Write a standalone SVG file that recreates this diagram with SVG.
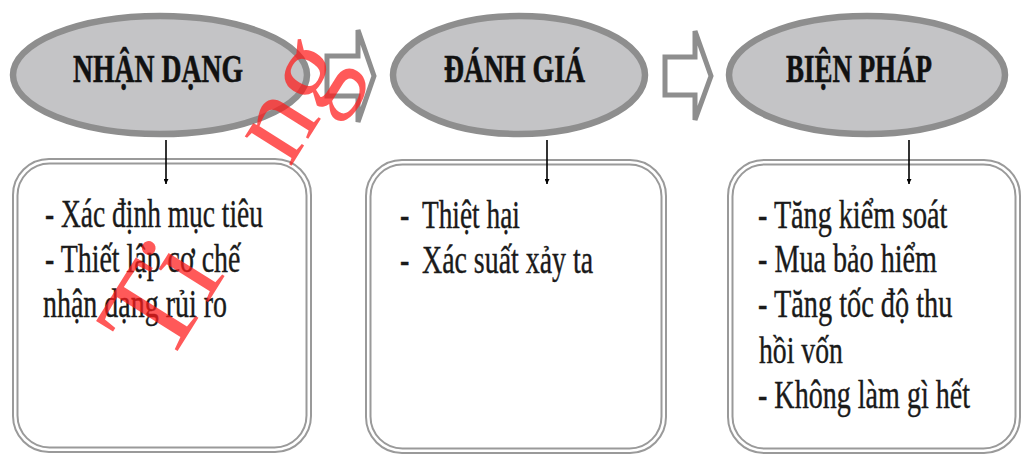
<svg xmlns="http://www.w3.org/2000/svg" width="1022" height="455" viewBox="0 0 1022 455">
<style>
.ell{fill:#c4c4c6;stroke:#8e8e8e;stroke-width:6.5}
.title{font-family:"Liberation Serif","DejaVu Serif",serif;font-weight:bold;font-size:40px;fill:#111;stroke:#111;stroke-width:0.6;text-anchor:middle}
.body{font-family:"Liberation Serif","DejaVu Serif",serif;font-size:39px;fill:#1a1a1a;stroke:#1a1a1a;stroke-width:0.4}
.boxo{fill:#fff;stroke:#9a9a9a;stroke-width:2}
.boxi{fill:none;stroke:#9a9a9a;stroke-width:2}
.blk{fill:#fff;stroke:#8e8e8e;stroke-width:5;stroke-linejoin:miter}
.dn{stroke:#000;stroke-width:1.6;fill:none}
.wm{font-family:"Liberation Serif","DejaVu Serif",serif;font-size:130px;fill:#ff1a1a;opacity:0.72}
</style>
<defs>
<marker id="ah" viewBox="0 0 10 10" refX="10" refY="5" markerWidth="5" markerHeight="5" orient="auto" markerUnits="userSpaceOnUse">
<path d="M0,0 L10,5 L0,10 z" fill="#000"/>
</marker>
</defs>
<rect width="1022" height="455" fill="#fff"/>

<g id="node-nhandang">
<ellipse class="ell" cx="160" cy="75" rx="147" ry="59"/>
<text class="title" x="158" y="82" textLength="170" lengthAdjust="spacingAndGlyphs">NHẬN DẠNG</text>
</g>
<g id="node-danhgia">
<ellipse class="ell" cx="519" cy="75" rx="126" ry="59"/>
<text class="title" x="514.5" y="82" textLength="141" lengthAdjust="spacingAndGlyphs">ĐÁNH GIÁ</text>
</g>
<g id="node-bienphap">
<ellipse class="ell" cx="867" cy="75" rx="138" ry="59"/>
<text class="title" x="859" y="82" textLength="146" lengthAdjust="spacingAndGlyphs">BIỆN PHÁP</text>
</g>

<g id="box-nhandang">
<rect class="boxo" x="13" y="159" width="298" height="293" rx="36"/>
<rect class="boxi" x="17.5" y="163.5" width="289" height="284" rx="32"/>
<text class="body" transform="translate(45,227) scale(0.704,1)">- Xác định mục tiêu</text>
<text class="body" transform="translate(45,272) scale(0.715,1)">- Thiết lập cơ chế</text>
<text class="body" transform="translate(43,317) scale(0.717,1)">nhận dạng rủi ro</text>
</g>
<g id="box-danhgia">
<rect class="boxo" x="366" y="160" width="300" height="293" rx="36"/>
<rect class="boxi" x="370.5" y="164.5" width="291" height="284" rx="32"/>
<text class="body" transform="translate(400,228) scale(0.72,1)">-</text>
<text class="body" transform="translate(422,228) scale(0.701,1)">Thiệt hại</text>
<text class="body" transform="translate(400,273) scale(0.72,1)">-</text>
<text class="body" transform="translate(422,273) scale(0.715,1)">Xác suất xảy ta</text>
</g>
<g id="box-bienphap">
<rect class="boxo" x="728" y="160" width="292" height="293" rx="36"/>
<rect class="boxi" x="732.5" y="164.5" width="283" height="284" rx="32"/>
<text class="body" transform="translate(758,228) scale(0.722,1)">- Tăng kiểm soát</text>
<text class="body" transform="translate(758,272) scale(0.722,1)">- Mua bảo hiểm</text>
<text class="body" transform="translate(758,317) scale(0.726,1)">- Tăng tốc độ thu</text>
<text class="body" transform="translate(759,363) scale(0.711,1)">hồi vốn</text>
<text class="body" transform="translate(758,408) scale(0.72,1)">- Không làm gì hết</text>
</g>

<g id="connectors">
<polygon class="blk" points="327,56 358,56 358,30 374,76 358,122 358,96 327,96"/>
<polygon class="blk" points="665,57 695,57 695,31 711,76 695,120 695,95 665,95"/>
<line class="dn" x1="166" y1="140" x2="166" y2="184" marker-end="url(#ah)"/>
<line class="dn" x1="547" y1="140" x2="547" y2="184" marker-end="url(#ah)"/>
<line class="dn" x1="909" y1="140" x2="909" y2="184" marker-end="url(#ah)"/>
</g>

<g id="watermark">
<text class="wm" transform="translate(167,368) rotate(-58)">Ti</text>
<text class="wm" style="font-size:120px" transform="translate(290,168) rotate(-58)">ng</text>
</g>
</svg>
